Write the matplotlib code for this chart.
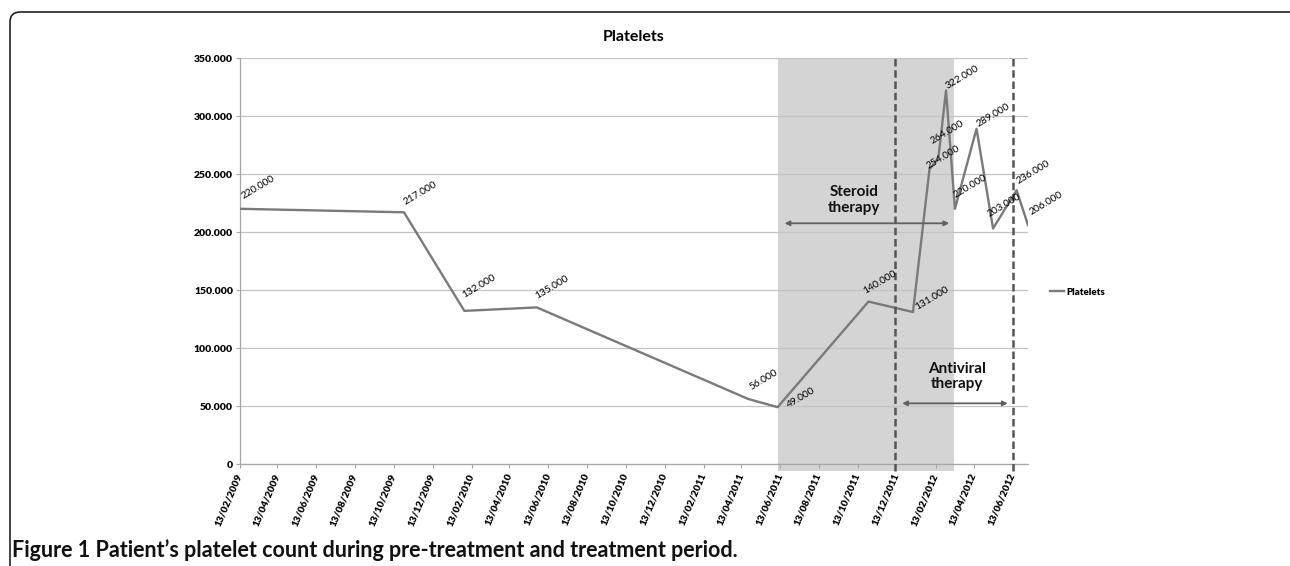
import matplotlib
matplotlib.use('Agg')
import matplotlib.pyplot as plt
import matplotlib.dates as mdates
from matplotlib.patches import FancyBboxPatch
from matplotlib.ticker import FuncFormatter, MultipleLocator
from datetime import datetime

plt.rcParams['font.family'] = ['Lato', 'DejaVu Sans']

# platelet counts
dates = ['2009-02-13', '2009-10-29', '2010-02-01', '2010-05-26', '2011-04-24',
         '2011-06-09', '2011-10-30', '2012-01-08', '2012-02-03', '2012-02-17',
         '2012-02-29', '2012-03-14', '2012-04-17', '2012-05-13', '2012-06-19',
         '2012-07-07']
platelets = [220000, 217000, 132000, 135000, 56000, 49000, 140000, 131000,
             254000, 264000, 322000, 220000, 289000, 203000, 236000, 206000]

steroid_period = ('2011-06-09', '2012-03-12')
antiviral_marks = ['2011-12-11', '2012-06-13']

tick_dates = []
for yr in range(2009, 2013):
    for mo in range(2, 13, 2):
        d = datetime(yr, mo, 13)
        if datetime(2009, 2, 13) <= d <= datetime(2012, 6, 13):
            tick_dates.append(d)

# label offsets in pixels (dx, dy) -- excel placed them a bit randomly
label_off = [(5, 8), (3, 6), (1, 11), (1, 7), (4, 7), (12, -3), (-2, 6), (5, 0),
             (0, -1), (-5, 12), (3, 0), (2, 9), (3, 0), (-3, 10), (3, 5), (5, 8)]

x = [datetime.strptime(d, '%Y-%m-%d') for d in dates]

fig = plt.figure(figsize=(12.9, 5.66), dpi=100)
ax = fig.add_axes([240 / 1290, 1 - 464 / 566, 788 / 1290, 406 / 566])

gray_line = '#7a7a7a'
ax.plot(x, platelets, color=gray_line, lw=1.7, label='Platelets', zorder=3)

s0 = datetime.strptime(steroid_period[0], '%Y-%m-%d')
s1 = datetime.strptime(steroid_period[1], '%Y-%m-%d')
ax.axvspan(s0, s1, ymin=-0.017, ymax=1, color='#d4d4d4', zorder=0, clip_on=False, lw=0)

for d in antiviral_marks:
    ax.axvline(datetime.strptime(d, '%Y-%m-%d'), ymin=-0.017, ymax=1, color='#555555',
               lw=1.8, ls=(0, (3, 1.5)), clip_on=False, zorder=4)

for xi, yi, off in zip(x, platelets, label_off):
    ax.annotate('{:,.0f}'.format(yi).replace(',', '.'), (xi, yi),
                xytext=(off[0] * 0.72, off[1] * 0.72), textcoords='offset points',
                ha='left', va='bottom', rotation=31, rotation_mode='anchor',
                fontsize=7.3, color='#000000', zorder=5)

# therapy arrows and labels
ax.annotate('', xy=(datetime(2011, 6, 20), 207500), xytext=(datetime(2012, 3, 5), 207500),
            arrowprops=dict(arrowstyle='<|-|>', color='#606060', lw=1.3, mutation_scale=7,
                            shrinkA=0, shrinkB=0), zorder=4)
ax.text(datetime(2011, 10, 7), 227600, 'Steroid\ntherapy', ha='center', va='center',
        fontsize=11, fontweight='bold', linespacing=1.15, color='#111111')
ax.annotate('', xy=(datetime(2011, 12, 22), 52300), xytext=(datetime(2012, 6, 5), 52300),
            arrowprops=dict(arrowstyle='<|-|>', color='#606060', lw=1.3, mutation_scale=7,
                            shrinkA=0, shrinkB=0), zorder=4)
ax.text(datetime(2012, 3, 17), 75300, 'Antiviral\ntherapy', ha='center', va='center',
        fontsize=11, fontweight='bold', linespacing=1.15, color='#111111')

ax.set_xlim(datetime(2009, 2, 13), datetime(2012, 7, 7))
ax.set_ylim(0, 350000)
ax.yaxis.set_major_locator(MultipleLocator(50000))
ax.yaxis.set_major_formatter(FuncFormatter(lambda v, p: '{:,.0f}'.format(v).replace(',', '.')))
ax.set_xticks(tick_dates)
ax.xaxis.set_major_formatter(mdates.DateFormatter('%d/%m/%Y'))
plt.setp(ax.get_xticklabels(), rotation=67, ha='right', va='center', rotation_mode='anchor')

ax.grid(axis='y', color='#c4c4c4', lw=0.9)
ax.set_axisbelow(True)
for s in ['top', 'right']:
    ax.spines[s].set_visible(False)
for s in ['left', 'bottom']:
    ax.spines[s].set_color('#a6a6a6')
    ax.spines[s].set_linewidth(0.9)
ax.tick_params(axis='both', colors='#a6a6a6', length=3, width=0.8, labelcolor='#000000')
ax.tick_params(axis='x', labelsize=7.2, pad=4)
ax.tick_params(axis='y', labelsize=7.5, pad=2)
for lab in ax.get_xticklabels() + ax.get_yticklabels():
    lab.set_fontweight('heavy')

ax.set_title('Platelets', fontsize=11.5, fontweight='bold', pad=12)

leg = ax.legend(loc='center left', bbox_to_anchor=(1.028, 0.4236), frameon=False,
                handlelength=1.4, handletextpad=0.3, borderaxespad=0, borderpad=0,
                prop={'size': 7, 'weight': 'heavy'})

# the rounded frame around the figure (open at bottom and right)
frame = FancyBboxPatch((0.10, -0.5), 12.95, 6.04, boxstyle='round,pad=0,rounding_size=0.1',
                       transform=fig.dpi_scale_trans, fill=False, ec='#222222', lw=1.2)
fig.patches.append(frame)

fig.text(12 / 1290, 1 - 557 / 566, 'Figure 1 Patient\u2019s platelet count during pre-treatment and treatment period.',
         fontsize=15.5, fontweight='bold', color='#111111', ha='left', va='baseline')

fig.savefig('out.png', dpi=100)
